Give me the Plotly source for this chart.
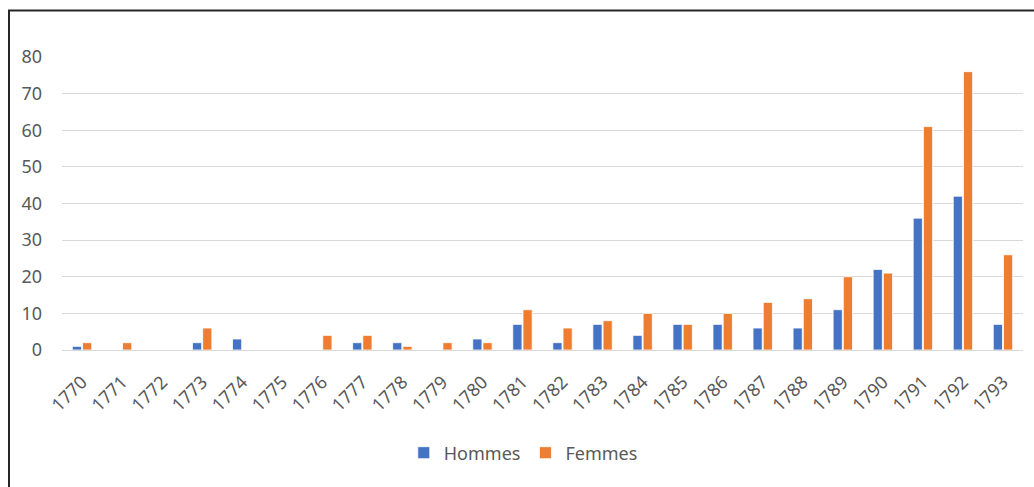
import plotly.graph_objects as go

years = [str(y) for y in range(1770, 1794)]
hommes = [1, 0, 0, 2, 3, 0, 0, 2, 2, 0, 3, 7, 2, 7, 4, 7, 7, 6, 6, 11, 22, 36, 42, 7]
femmes = [2, 2, 0, 6, 0, 0, 4, 4, 1, 2, 2, 11, 6, 8, 10, 7, 10, 13, 14, 20, 21, 61, 76, 26]
y_ticks = [0, 10, 20, 30, 40, 50, 60, 70, 80]

BLUE = "#4472C4"
ORANGE = "#ED7D31"
GRAY = "#595959"
FONT = "Noto Sans"

W, H = 1034, 487
ML, MR, MT, MB = 62, 11, 57, 137
PW, PH = W - ML - MR, H - MT - MB

fig = go.Figure()
fig.add_trace(go.Bar(x=years, y=hommes, name="Hommes",
                     marker=dict(color=BLUE, line=dict(color="white", width=0.8))))
fig.add_trace(go.Bar(x=years, y=femmes, name="Femmes",
                     marker=dict(color=ORANGE, line=dict(color="white", width=0.8))))

def px_to_paper_x(px):
    return (px - ML) / PW

def px_to_paper_y(py):
    return (H - MB - py) / PH

fig.add_shape(type="rect", xref="paper", yref="paper",
              x0=px_to_paper_x(9), x1=px_to_paper_x(1060),
              y0=px_to_paper_y(520), y1=px_to_paper_y(10.5),
              line=dict(color="#262626", width=2), fillcolor="rgba(0,0,0,0)", layer="below")

fig.update_layout(
    width=W, height=H,
    margin=dict(l=ML, r=MR, t=MT, b=MB, autoexpand=False),
    paper_bgcolor="white", plot_bgcolor="white",
    barmode="group", bargap=0.49, bargroupgap=0.1,
    font=dict(family=FONT, size=18, color=GRAY),
    showlegend=True,
    legend=dict(orientation="h", x=0.48, xanchor="center", y=px_to_paper_y(453), yanchor="middle",
                font=dict(family=FONT, size=18, color=GRAY)),
    xaxis=dict(type="category", tickangle=-45, showgrid=False, showline=False, automargin=False,
               ticks="", ticklabelstandoff=17, tickfont=dict(size=18, color=GRAY)),
    yaxis=dict(range=[0, 80], tickvals=y_ticks, showgrid=True, gridcolor="#D9D9D9", gridwidth=1,
               zeroline=True, zerolinecolor="#D9D9D9", zerolinewidth=1, showline=False, automargin=False,
               ticks="", ticklabelstandoff=19, tickfont=dict(size=18, color=GRAY)),
)

fig.write_html("out.html", config={"displayModeBar": False},
               post_script="document.body.style.margin='0';document.body.style.overflow='hidden';")
